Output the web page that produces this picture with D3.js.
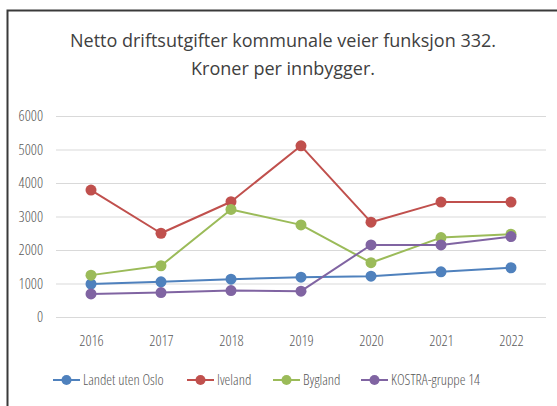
<!DOCTYPE html>
<html>
<head>
<meta charset="utf-8">
<script src="https://cdn.jsdelivr.net/npm/d3@7"></script>
<style>
  html, body { margin: 0; padding: 0; background: #fff; }
  svg { display: block; font-family: "Open Sans", sans-serif; }
  .grid line { stroke: #d9d9d9; stroke-width: 1; }
  .grid .domain { display: none; }
  .axis .domain, .axis line { display: none; }
</style>
</head>
<body>
<div id="chart"></div>
<script>
// Netto driftsutgifter kommunale veier, funksjon 332 (kr per innbygger)

const years = ["2016", "2017", "2018", "2019", "2020", "2021", "2022"];
const yTicks = [0, 1000, 2000, 3000, 4000, 5000, 6000];
const seriesNames = ["Landet uten Oslo", "Iveland", "Bygland", "KOSTRA-gruppe 14"];
const seriesColors = ["#4f81bd", "#c0504d", "#9bbb59", "#8064a2"];

const landetUtenOslo = [985, 1050, 1130, 1190, 1220, 1350, 1470];
const iveland = [3790, 2500, 3440, 5110, 2830, 3430, 3430];
const bygland = [1250, 1530, 3210, 2750, 1620, 2370, 2470];
const kostraGruppe14 = [690, 730, 790, 770, 2150, 2150, 2400];

const seriesValues = [landetUtenOslo, iveland, bygland, kostraGruppe14];

const width = 557;
const height = 406;
const margin = { top: 116, right: 11, bottom: 89, left: 56 };
const innerWidth = width - margin.left - margin.right;
const innerHeight = height - margin.top - margin.bottom;

const svg = d3.select("#chart").append("svg")
    .attr("width", width)
    .attr("height", height);

// outer frame (only left + top edges show in the crop)
svg.append("path")
    .attr("d", `M7.5,${height} L7.5,10.5 L${width},10.5`)
    .attr("fill", "none")
    .attr("stroke", "#3a3a3a")
    .attr("stroke-width", 2);

// title
const title = svg.append("text")
    .attr("text-anchor", "middle")
    .attr("fill", "#404040")
    .attr("font-size", 18);
title.append("tspan").attr("x", 283).attr("y", 47).text("Netto driftsutgifter kommunale veier funksjon 332.");
title.append("tspan").attr("x", 283).attr("y", 75).text("Kroner per innbygger.");

const root = svg.append("g")
    .attr("transform", `translate(${margin.left},${margin.top})`);

const x = d3.scalePoint()
    .domain(years)
    .range([0, innerWidth])
    .padding(0.5);

const y = d3.scaleLinear()
    .domain([0, 6000])
    .range([innerHeight, 0]);

root.append("g")
    .attr("class", "grid")
    .call(d3.axisLeft(y).tickValues(yTicks).tickSize(-innerWidth).tickFormat(""));

const yAxisGroup = root.append("g")
    .attr("class", "axis y-axis")
    .call(d3.axisLeft(y).tickValues(yTicks).tickSize(0).tickPadding(13).tickFormat(d3.format("d")));

const xAxisGroup = root.append("g")
    .attr("class", "axis x-axis")
    .attr("transform", `translate(0,${innerHeight})`)
    .call(d3.axisBottom(x).tickSize(0).tickPadding(18));

[yAxisGroup, xAxisGroup].forEach(g => {
    g.attr("font-family", "Open Sans").attr("font-size", 15);
    g.selectAll("text")
        .attr("fill", "#595959")
        .attr("font-weight", 300)
        .style("font-stretch", "condensed");
});

const line = d3.line()
    .x((d, i) => x(years[i]))
    .y(d => y(d));

seriesValues.forEach((values, s) => {
    const g = root.append("g").attr("class", "series");
    g.append("path")
        .datum(values)
        .attr("fill", "none")
        .attr("stroke", seriesColors[s])
        .attr("stroke-width", 2)
        .attr("stroke-linejoin", "round")
        .attr("d", line);
    g.selectAll("circle")
        .data(values)
        .join("circle")
        .attr("cx", (d, i) => x(years[i]))
        .attr("cy", d => y(d))
        .attr("r", 5.5)
        .attr("fill", seriesColors[s]);
});

// legend
const legendX = [53, 187, 273, 361];
const legend = svg.append("g")
    .attr("class", "legend")
    .attr("transform", "translate(0,380)");
seriesNames.forEach((name, s) => {
    const item = legend.append("g").attr("transform", `translate(${legendX[s]},0)`);
    item.append("line")
        .attr("x1", 0).attr("x2", 27)
        .attr("stroke", seriesColors[s])
        .attr("stroke-width", 2);
    item.append("circle")
        .attr("cx", 13.5)
        .attr("r", 5)
        .attr("fill", seriesColors[s]);
    item.append("text")
        .attr("x", 30)
        .attr("dy", "0.35em")
        .attr("fill", "#595959")
        .attr("font-size", 14.6)
        .attr("font-weight", 300)
        .style("font-stretch", "condensed")
        .text(name);
});
</script>
</body>
</html>
